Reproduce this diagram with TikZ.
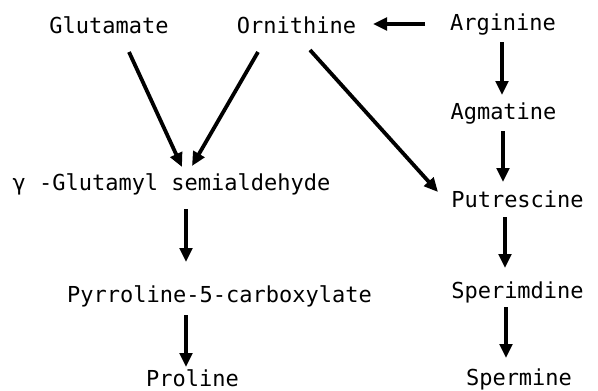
\documentclass[tikz,border=0pt]{standalone}
\usepackage{fontspec}
\setmonofont{DejaVu Sans Mono}
\usetikzlibrary{arrows.meta}
\tikzset{
  lbl/.style={anchor=base, inner sep=0pt, text height=16pt, text depth=3pt,
    font=\ttfamily\fontsize{22}{24}\selectfont},
  arr/.style={line width=3.8pt, -{Triangle[length=14pt,width=12.5pt]}}
}
\begin{document}
\begin{tikzpicture}[x=1pt,y=-1pt]
\useasboundingbox (0,0) rectangle (598,391);
\node[lbl] (glu) at (109,33) {Glutamate};
\node[lbl] (orn) at (296.5,33) {Ornithine};
\node[lbl] (arg) at (503,30) {Arginine};
\node[lbl] (agm) at (503.5,119) {Agmatine};
\node[lbl] (put) at (517.5,207) {Putrescine};
\node[lbl] (spd) at (517.5,298) {Sperimdine};
\node[lbl] (spm) at (519,385) {Spermine};
\node[lbl] (gsa) at (171.5,190) {γ -Glutamyl semialdehyde};
\node[lbl] (p5c) at (219.5,302) {Pyrroline-5-carboxylate};
\node[lbl] (pro) at (192.5,386) {Proline};

\draw[arr] ([shift={(20,19)}]glu.base) -- ([shift={(10.5,-23)}]gsa.base);
\draw[arr] ([shift={(-38.5,19)}]orn.base) -- ([shift={(20.5,-24)}]gsa.base);
\draw[arr] ([shift={(-78,-6)}]arg.base) -- ([shift={(76.5,-9)}]orn.base);
\draw[arr] ([shift={(13.5,17)}]orn.base) -- ([shift={(-79.5,-15)}]put.base);
\draw[arr] ([shift={(-1,12)}]arg.base) -- ([shift={(-1.5,-24)}]agm.base);
\draw[arr] ([shift={(-0.5,12)}]agm.base) -- ([shift={(-14.5,-25)}]put.base);
\draw[arr] ([shift={(-12.5,10)}]put.base) -- ([shift={(-12.5,-30)}]spd.base);
\draw[arr] ([shift={(-11.5,9)}]spd.base) -- ([shift={(-13,-27)}]spm.base);
\draw[arr] ([shift={(14.5,19)}]gsa.base) -- ([shift={(-33.5,-40)}]p5c.base);
\draw[arr] ([shift={(-33.5,13)}]p5c.base) -- ([shift={(-6.5,-19)}]pro.base);
\end{tikzpicture}
\end{document}
